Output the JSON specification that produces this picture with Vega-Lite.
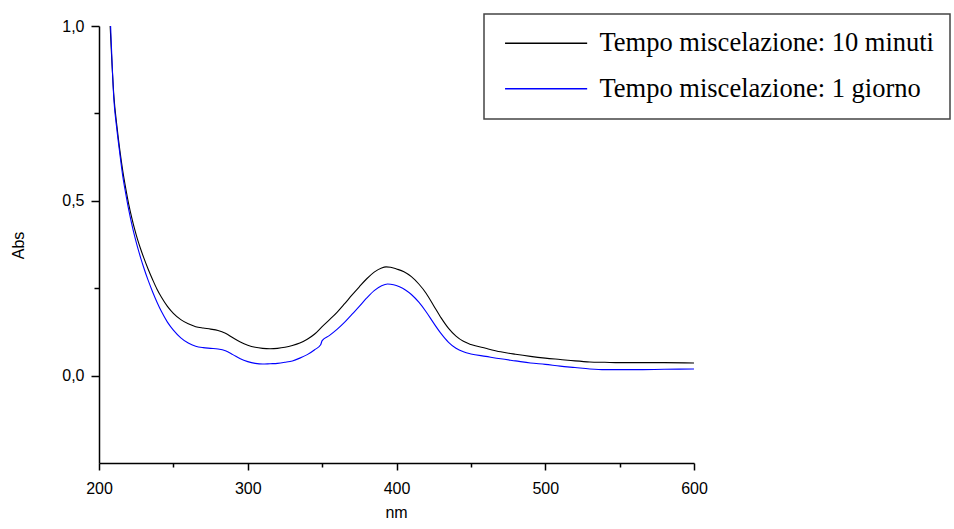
{
  "$schema": "https://vega.github.io/schema/vega-lite/v6.json",
  "autosize": {"type": "none"},
  "width": 595,
  "height": 437,
  "padding": {"left": 99, "top": 26, "right": 260, "bottom": 66},
  "background": "white",
  "config": {
    "view": {"stroke": null},
    "axis": {"grid": false, "domainColor": "#000", "domainWidth": 1.5, "tickColor": "#000", "tickWidth": 1.5, "labelFont": "Liberation Sans", "labelFontSize": 16, "labelColor": "#000", "titleFont": "Liberation Sans", "titleFontSize": 16, "titleFontWeight": "normal", "titleColor": "#000"}
  },
  "datasets": {
    "spectra": [
      {"nm": 207.5, "abs": 1.0, "s": "Tempo miscelazione: 10 minuti"},
      {"nm": 210, "abs": 0.80, "s": "Tempo miscelazione: 10 minuti"},
      {"nm": 212, "abs": 0.715, "s": "Tempo miscelazione: 10 minuti"},
      {"nm": 214, "abs": 0.645, "s": "Tempo miscelazione: 10 minuti"},
      {"nm": 216, "abs": 0.585, "s": "Tempo miscelazione: 10 minuti"},
      {"nm": 218, "abs": 0.535, "s": "Tempo miscelazione: 10 minuti"},
      {"nm": 220, "abs": 0.49, "s": "Tempo miscelazione: 10 minuti"},
      {"nm": 222, "abs": 0.452, "s": "Tempo miscelazione: 10 minuti"},
      {"nm": 224, "abs": 0.418, "s": "Tempo miscelazione: 10 minuti"},
      {"nm": 226, "abs": 0.388, "s": "Tempo miscelazione: 10 minuti"},
      {"nm": 228, "abs": 0.362, "s": "Tempo miscelazione: 10 minuti"},
      {"nm": 230, "abs": 0.338, "s": "Tempo miscelazione: 10 minuti"},
      {"nm": 233, "abs": 0.305, "s": "Tempo miscelazione: 10 minuti"},
      {"nm": 236, "abs": 0.275, "s": "Tempo miscelazione: 10 minuti"},
      {"nm": 239, "abs": 0.247, "s": "Tempo miscelazione: 10 minuti"},
      {"nm": 242, "abs": 0.224, "s": "Tempo miscelazione: 10 minuti"},
      {"nm": 246, "abs": 0.198, "s": "Tempo miscelazione: 10 minuti"},
      {"nm": 250, "abs": 0.178, "s": "Tempo miscelazione: 10 minuti"},
      {"nm": 255, "abs": 0.160, "s": "Tempo miscelazione: 10 minuti"},
      {"nm": 260, "abs": 0.148, "s": "Tempo miscelazione: 10 minuti"},
      {"nm": 265, "abs": 0.140, "s": "Tempo miscelazione: 10 minuti"},
      {"nm": 270, "abs": 0.136, "s": "Tempo miscelazione: 10 minuti"},
      {"nm": 275, "abs": 0.133, "s": "Tempo miscelazione: 10 minuti"},
      {"nm": 280, "abs": 0.129, "s": "Tempo miscelazione: 10 minuti"},
      {"nm": 285, "abs": 0.121, "s": "Tempo miscelazione: 10 minuti"},
      {"nm": 290, "abs": 0.108, "s": "Tempo miscelazione: 10 minuti"},
      {"nm": 295, "abs": 0.096, "s": "Tempo miscelazione: 10 minuti"},
      {"nm": 300, "abs": 0.087, "s": "Tempo miscelazione: 10 minuti"},
      {"nm": 305, "abs": 0.081, "s": "Tempo miscelazione: 10 minuti"},
      {"nm": 310, "abs": 0.078, "s": "Tempo miscelazione: 10 minuti"},
      {"nm": 315, "abs": 0.077, "s": "Tempo miscelazione: 10 minuti"},
      {"nm": 320, "abs": 0.078, "s": "Tempo miscelazione: 10 minuti"},
      {"nm": 325, "abs": 0.081, "s": "Tempo miscelazione: 10 minuti"},
      {"nm": 330, "abs": 0.086, "s": "Tempo miscelazione: 10 minuti"},
      {"nm": 335, "abs": 0.093, "s": "Tempo miscelazione: 10 minuti"},
      {"nm": 340, "abs": 0.104, "s": "Tempo miscelazione: 10 minuti"},
      {"nm": 345, "abs": 0.119, "s": "Tempo miscelazione: 10 minuti"},
      {"nm": 350, "abs": 0.140, "s": "Tempo miscelazione: 10 minuti"},
      {"nm": 355, "abs": 0.160, "s": "Tempo miscelazione: 10 minuti"},
      {"nm": 360, "abs": 0.181, "s": "Tempo miscelazione: 10 minuti"},
      {"nm": 365, "abs": 0.205, "s": "Tempo miscelazione: 10 minuti"},
      {"nm": 370, "abs": 0.230, "s": "Tempo miscelazione: 10 minuti"},
      {"nm": 375, "abs": 0.254, "s": "Tempo miscelazione: 10 minuti"},
      {"nm": 380, "abs": 0.277, "s": "Tempo miscelazione: 10 minuti"},
      {"nm": 385, "abs": 0.296, "s": "Tempo miscelazione: 10 minuti"},
      {"nm": 390, "abs": 0.308, "s": "Tempo miscelazione: 10 minuti"},
      {"nm": 393, "abs": 0.311, "s": "Tempo miscelazione: 10 minuti"},
      {"nm": 396, "abs": 0.310, "s": "Tempo miscelazione: 10 minuti"},
      {"nm": 400, "abs": 0.305, "s": "Tempo miscelazione: 10 minuti"},
      {"nm": 405, "abs": 0.297, "s": "Tempo miscelazione: 10 minuti"},
      {"nm": 410, "abs": 0.283, "s": "Tempo miscelazione: 10 minuti"},
      {"nm": 415, "abs": 0.262, "s": "Tempo miscelazione: 10 minuti"},
      {"nm": 420, "abs": 0.235, "s": "Tempo miscelazione: 10 minuti"},
      {"nm": 425, "abs": 0.200, "s": "Tempo miscelazione: 10 minuti"},
      {"nm": 430, "abs": 0.165, "s": "Tempo miscelazione: 10 minuti"},
      {"nm": 435, "abs": 0.135, "s": "Tempo miscelazione: 10 minuti"},
      {"nm": 440, "abs": 0.113, "s": "Tempo miscelazione: 10 minuti"},
      {"nm": 445, "abs": 0.098, "s": "Tempo miscelazione: 10 minuti"},
      {"nm": 450, "abs": 0.089, "s": "Tempo miscelazione: 10 minuti"},
      {"nm": 460, "abs": 0.078, "s": "Tempo miscelazione: 10 minuti"},
      {"nm": 470, "abs": 0.068, "s": "Tempo miscelazione: 10 minuti"},
      {"nm": 480, "abs": 0.061, "s": "Tempo miscelazione: 10 minuti"},
      {"nm": 490, "abs": 0.055, "s": "Tempo miscelazione: 10 minuti"},
      {"nm": 500, "abs": 0.050, "s": "Tempo miscelazione: 10 minuti"},
      {"nm": 510, "abs": 0.046, "s": "Tempo miscelazione: 10 minuti"},
      {"nm": 520, "abs": 0.042, "s": "Tempo miscelazione: 10 minuti"},
      {"nm": 530, "abs": 0.039, "s": "Tempo miscelazione: 10 minuti"},
      {"nm": 540, "abs": 0.038, "s": "Tempo miscelazione: 10 minuti"},
      {"nm": 550, "abs": 0.037, "s": "Tempo miscelazione: 10 minuti"},
      {"nm": 560, "abs": 0.037, "s": "Tempo miscelazione: 10 minuti"},
      {"nm": 580, "abs": 0.037, "s": "Tempo miscelazione: 10 minuti"},
      {"nm": 600, "abs": 0.036, "s": "Tempo miscelazione: 10 minuti"},
      {"nm": 207.8, "abs": 1.0, "s": "Tempo miscelazione: 1 giorno"},
      {"nm": 210, "abs": 0.79, "s": "Tempo miscelazione: 1 giorno"},
      {"nm": 212, "abs": 0.705, "s": "Tempo miscelazione: 1 giorno"},
      {"nm": 214, "abs": 0.635, "s": "Tempo miscelazione: 1 giorno"},
      {"nm": 216, "abs": 0.57, "s": "Tempo miscelazione: 1 giorno"},
      {"nm": 218, "abs": 0.52, "s": "Tempo miscelazione: 1 giorno"},
      {"nm": 220, "abs": 0.474, "s": "Tempo miscelazione: 1 giorno"},
      {"nm": 222, "abs": 0.434, "s": "Tempo miscelazione: 1 giorno"},
      {"nm": 224, "abs": 0.398, "s": "Tempo miscelazione: 1 giorno"},
      {"nm": 226, "abs": 0.366, "s": "Tempo miscelazione: 1 giorno"},
      {"nm": 228, "abs": 0.337, "s": "Tempo miscelazione: 1 giorno"},
      {"nm": 230, "abs": 0.31, "s": "Tempo miscelazione: 1 giorno"},
      {"nm": 233, "abs": 0.273, "s": "Tempo miscelazione: 1 giorno"},
      {"nm": 236, "abs": 0.24, "s": "Tempo miscelazione: 1 giorno"},
      {"nm": 239, "abs": 0.21, "s": "Tempo miscelazione: 1 giorno"},
      {"nm": 242, "abs": 0.183, "s": "Tempo miscelazione: 1 giorno"},
      {"nm": 246, "abs": 0.153, "s": "Tempo miscelazione: 1 giorno"},
      {"nm": 250, "abs": 0.130, "s": "Tempo miscelazione: 1 giorno"},
      {"nm": 255, "abs": 0.108, "s": "Tempo miscelazione: 1 giorno"},
      {"nm": 260, "abs": 0.093, "s": "Tempo miscelazione: 1 giorno"},
      {"nm": 265, "abs": 0.084, "s": "Tempo miscelazione: 1 giorno"},
      {"nm": 270, "abs": 0.080, "s": "Tempo miscelazione: 1 giorno"},
      {"nm": 275, "abs": 0.078, "s": "Tempo miscelazione: 1 giorno"},
      {"nm": 280, "abs": 0.076, "s": "Tempo miscelazione: 1 giorno"},
      {"nm": 285, "abs": 0.071, "s": "Tempo miscelazione: 1 giorno"},
      {"nm": 290, "abs": 0.060, "s": "Tempo miscelazione: 1 giorno"},
      {"nm": 295, "abs": 0.048, "s": "Tempo miscelazione: 1 giorno"},
      {"nm": 300, "abs": 0.040, "s": "Tempo miscelazione: 1 giorno"},
      {"nm": 305, "abs": 0.035, "s": "Tempo miscelazione: 1 giorno"},
      {"nm": 310, "abs": 0.033, "s": "Tempo miscelazione: 1 giorno"},
      {"nm": 315, "abs": 0.034, "s": "Tempo miscelazione: 1 giorno"},
      {"nm": 320, "abs": 0.035, "s": "Tempo miscelazione: 1 giorno"},
      {"nm": 325, "abs": 0.038, "s": "Tempo miscelazione: 1 giorno"},
      {"nm": 330, "abs": 0.042, "s": "Tempo miscelazione: 1 giorno"},
      {"nm": 335, "abs": 0.050, "s": "Tempo miscelazione: 1 giorno"},
      {"nm": 340, "abs": 0.060, "s": "Tempo miscelazione: 1 giorno"},
      {"nm": 345, "abs": 0.074, "s": "Tempo miscelazione: 1 giorno"},
      {"nm": 349, "abs": 0.088, "s": "Tempo miscelazione: 1 giorno"},
      {"nm": 350, "abs": 0.100, "s": "Tempo miscelazione: 1 giorno"},
      {"nm": 355, "abs": 0.115, "s": "Tempo miscelazione: 1 giorno"},
      {"nm": 360, "abs": 0.132, "s": "Tempo miscelazione: 1 giorno"},
      {"nm": 365, "abs": 0.152, "s": "Tempo miscelazione: 1 giorno"},
      {"nm": 370, "abs": 0.175, "s": "Tempo miscelazione: 1 giorno"},
      {"nm": 375, "abs": 0.198, "s": "Tempo miscelazione: 1 giorno"},
      {"nm": 380, "abs": 0.222, "s": "Tempo miscelazione: 1 giorno"},
      {"nm": 385, "abs": 0.243, "s": "Tempo miscelazione: 1 giorno"},
      {"nm": 390, "abs": 0.257, "s": "Tempo miscelazione: 1 giorno"},
      {"nm": 394, "abs": 0.262, "s": "Tempo miscelazione: 1 giorno"},
      {"nm": 398, "abs": 0.260, "s": "Tempo miscelazione: 1 giorno"},
      {"nm": 402, "abs": 0.254, "s": "Tempo miscelazione: 1 giorno"},
      {"nm": 406, "abs": 0.245, "s": "Tempo miscelazione: 1 giorno"},
      {"nm": 410, "abs": 0.232, "s": "Tempo miscelazione: 1 giorno"},
      {"nm": 415, "abs": 0.210, "s": "Tempo miscelazione: 1 giorno"},
      {"nm": 420, "abs": 0.182, "s": "Tempo miscelazione: 1 giorno"},
      {"nm": 425, "abs": 0.150, "s": "Tempo miscelazione: 1 giorno"},
      {"nm": 430, "abs": 0.120, "s": "Tempo miscelazione: 1 giorno"},
      {"nm": 435, "abs": 0.095, "s": "Tempo miscelazione: 1 giorno"},
      {"nm": 440, "abs": 0.078, "s": "Tempo miscelazione: 1 giorno"},
      {"nm": 445, "abs": 0.068, "s": "Tempo miscelazione: 1 giorno"},
      {"nm": 450, "abs": 0.062, "s": "Tempo miscelazione: 1 giorno"},
      {"nm": 460, "abs": 0.055, "s": "Tempo miscelazione: 1 giorno"},
      {"nm": 470, "abs": 0.048, "s": "Tempo miscelazione: 1 giorno"},
      {"nm": 480, "abs": 0.042, "s": "Tempo miscelazione: 1 giorno"},
      {"nm": 490, "abs": 0.036, "s": "Tempo miscelazione: 1 giorno"},
      {"nm": 500, "abs": 0.032, "s": "Tempo miscelazione: 1 giorno"},
      {"nm": 510, "abs": 0.027, "s": "Tempo miscelazione: 1 giorno"},
      {"nm": 520, "abs": 0.023, "s": "Tempo miscelazione: 1 giorno"},
      {"nm": 530, "abs": 0.019, "s": "Tempo miscelazione: 1 giorno"},
      {"nm": 540, "abs": 0.017, "s": "Tempo miscelazione: 1 giorno"},
      {"nm": 550, "abs": 0.017, "s": "Tempo miscelazione: 1 giorno"},
      {"nm": 560, "abs": 0.017, "s": "Tempo miscelazione: 1 giorno"},
      {"nm": 580, "abs": 0.018, "s": "Tempo miscelazione: 1 giorno"},
      {"nm": 600, "abs": 0.019, "s": "Tempo miscelazione: 1 giorno"}
    ]
  },
  "data": {"name": "spectra"},
  "layer": [
    {
      "mark": {"type": "line", "strokeWidth": 1.1, "clip": true, "interpolate": "monotone"},
      "encoding": {
        "x": {"field": "nm", "type": "quantitative", "scale": {"domain": [200, 600], "nice": false, "zero": false},
              "axis": {"title": "nm", "values": [200, 300, 400, 500, 600], "tickSize": 7, "labelPadding": 10, "titleX": 297, "titleY": 49, "titleBaseline": "middle", "labelFlush": false}},
        "y": {"field": "abs", "type": "quantitative", "scale": {"domain": [-0.25, 1.0], "nice": false, "zero": false},
              "axis": {"title": "Abs", "values": [0, 0.5, 1.0], "tickSize": 8, "labelPadding": 7, "labelExpr": "replace(format(datum.value, '.1f'), '.', ',')", "titleX": -81, "titleY": 219, "titleAngle": -90, "titleBaseline": "middle", "titleAlign": "center", "labelFlush": false}},
        "color": {"field": "s", "type": "nominal",
                  "scale": {"domain": ["Tempo miscelazione: 10 minuti", "Tempo miscelazione: 1 giorno"], "range": ["#000000", "#0000ff"]},
                  "legend": {"title": null, "orient": "none", "legendX": 385, "legendY": -12, "symbolType": "M-0.81,0H7.3", "symbolSize": 410, "symbolStrokeWidth": 1.5, "labelFont": "Liberation Serif", "labelFontSize": 26.5, "labelColor": "#000", "labelOffset": 73, "labelLimit": 600, "padding": 16, "rowPadding": 18.5, "strokeColor": "#444", "fillColor": "white",
                             "encode": {"legend": {"update": {"strokeWidth": {"value": 1.5}}}}}}
      }
    },
    {
      "mark": {"type": "point", "opacity": 0},
      "encoding": {
        "x": {"field": "nm", "type": "quantitative", "axis": {"orient": "bottom", "title": null, "values": [250, 350, 450, 550], "labels": false, "domain": false, "tickSize": 4}},
        "y": {"field": "abs", "type": "quantitative", "axis": {"orient": "left", "title": null, "values": [0.25, 0.75], "labels": false, "domain": false, "tickSize": 5}}
      }
    }
  ],
  "resolve": {"axis": {"x": "independent", "y": "independent"}}
}
